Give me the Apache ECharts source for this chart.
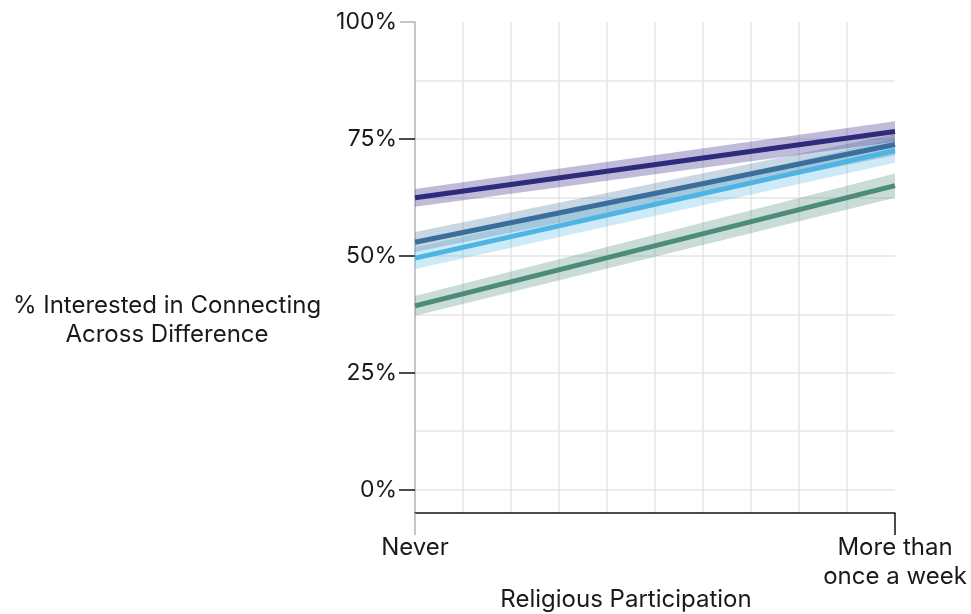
<!DOCTYPE html>
<html>
<head>
<meta charset="utf-8">
<script src="https://cdn.jsdelivr.net/npm/echarts@6/dist/echarts.min.js"></script>
<style>
  html, body { margin: 0; padding: 0; background: #ffffff; }
  #chart { width: 971px; height: 614px; }
</style>
</head>
<body>
<div id="chart"></div>
<script>
// Religious participation scale: two anchor points on a 0..1 axis
const xPositions = [0, 1];
const xTickLabels = ['Never', 'More than\nonce a week'];

// Percentage axis
const yTickLabels = [0, 25, 50, 75, 100];
const yGridValues = [0, 12.5, 25, 37.5, 50, 62.5, 75, 87.5];
const xGridStep = 0.1;

// Fitted share interested, with lower / upper bounds of the interval
const purpleFit  = [62.4, 76.6];
const purpleLow  = [60.5, 74.4];
const purpleHigh = [64.3, 78.8];

const steelFit  = [52.9, 73.8];
const steelLow  = [50.8, 71.5];
const steelHigh = [55.1, 76.0];

const skyFit  = [49.5, 72.5];
const skyLow  = [47.2, 69.9];
const skyHigh = [51.8, 75.0];

const greenFit  = [39.3, 65.0];
const greenLow  = [37.2, 62.4];
const greenHigh = [41.4, 67.6];

const FONT = 'Inter';
const TEXT = '#1a1a1a';
const groups = [
  { fit: greenFit,  low: greenLow,  high: greenHigh,  line: '#4d8c79', band: 'rgba(77,140,121,0.30)' },
  { fit: skyFit,    low: skyLow,    high: skyHigh,    line: '#4db4e4', band: 'rgba(77,180,228,0.28)' },
  { fit: steelFit,  low: steelLow,  high: steelHigh,  line: '#3a6e9b', band: 'rgba(58,110,155,0.28)' },
  { fit: purpleFit, low: purpleLow, high: purpleHigh, line: '#2e2a7c', band: 'rgba(60,50,140,0.33)' }
];

// Shaded interval between the low and high bounds
function bandSeries(g) {
  return {
    type: 'custom',
    xAxisIndex: 0,
    yAxisIndex: 0,
    silent: true,
    z: 2,
    data: [[0]],
    renderItem: function (params, api) {
      const pts = [];
      for (let i = 0; i < xPositions.length; i++) pts.push(api.coord([xPositions[i], g.high[i]]));
      for (let i = xPositions.length - 1; i >= 0; i--) pts.push(api.coord([xPositions[i], g.low[i]]));
      return { type: 'polygon', shape: { points: pts }, style: { fill: g.band } };
    }
  };
}

function lineSeries(g) {
  return {
    type: 'line',
    xAxisIndex: 0,
    yAxisIndex: 0,
    z: 3,
    symbol: 'none',
    silent: true,
    lineStyle: { color: g.line, width: 5 },
    data: xPositions.map((x, i) => [x, g.fit[i]])
  };
}

const series = [];
groups.forEach(g => series.push(bandSeries(g)));
groups.forEach(g => series.push(lineSeries(g)));

const chart = echarts.init(document.getElementById('chart'), null, { renderer: 'canvas' });
chart.setOption({
  animation: false,
  backgroundColor: '#ffffff',
  grid: { left: 415, right: 76, top: 22, bottom: 101, containLabel: false },
  xAxis: [
    {
      type: 'value', min: 0, max: 1, position: 'bottom',
      axisLine: { show: true, onZero: false, lineStyle: { color: '#111111', width: 1.5 } },
      axisTick: { show: true, customValues: [1], length: 22, lineStyle: { color: '#111111', width: 1.5 } },
      axisLabel: {
        customValues: xPositions,
        formatter: v => xTickLabels[xPositions.indexOf(v)] || '',
        margin: 20, fontSize: 24, lineHeight: 29, color: TEXT, fontFamily: FONT
      },
      splitLine: { show: false }
    },
    {
      type: 'value', min: 0, max: 1, position: 'bottom',
      axisLine: { show: false, onZero: false },
      axisTick: { show: true, customValues: [0], length: 22, lineStyle: { color: '#b3b3b3', width: 1.5 } },
      axisLabel: { show: false },
      splitLine: { show: false }
    },
    {
      type: 'value', min: 0, max: 1, interval: xGridStep, position: 'bottom',
      axisLine: { show: false, onZero: false },
      axisTick: { show: false },
      axisLabel: { show: false },
      splitLine: { show: true, showMinLine: false, showMaxLine: false, lineStyle: { color: '#e6e6e6', width: 1.5 } }
    }
  ],
  yAxis: [
    {
      type: 'value', min: -5, max: 100, position: 'left',
      axisLine: { show: true, onZero: false, lineStyle: { color: '#b3b3b3', width: 1.5 } },
      axisTick: { show: true, customValues: [100], length: 15, lineStyle: { color: '#b3b3b3', width: 1.5 } },
      axisLabel: {
        customValues: yTickLabels,
        formatter: v => v + '%',
        margin: 18, fontSize: 23, color: TEXT, fontFamily: FONT
      },
      splitLine: { show: false }
    },
    {
      type: 'value', min: -5, max: 100, position: 'left',
      axisLine: { show: false, onZero: false },
      axisTick: { show: true, customValues: [0, 25, 50, 75], length: 16, lineStyle: { color: '#111111', width: 1.5 } },
      axisLabel: { show: false },
      splitLine: { show: false }
    },
    {
      type: 'value', min: -5, max: 100, position: 'left',
      axisLine: { show: false, onZero: false },
      axisTick: { show: false, customValues: yGridValues },
      axisLabel: { show: false },
      splitLine: { show: true, lineStyle: { color: '#e6e6e6', width: 1.5 } }
    }
  ],
  graphic: [
    {
      type: 'text', x: 167, y: 291, z: 10,
      style: {
        text: '% Interested in Connecting\nAcross Difference',
        fontSize: 24, lineHeight: 29, fill: TEXT, fontFamily: FONT,
        align: 'center', verticalAlign: 'top'
      }
    },
    {
      type: 'text', x: 626, y: 588, z: 10,
      style: {
        text: 'Religious Participation',
        fontSize: 24, fill: TEXT, fontFamily: FONT,
        align: 'center', verticalAlign: 'top'
      }
    }
  ],
  series: series
});
</script>
</body>
</html>
